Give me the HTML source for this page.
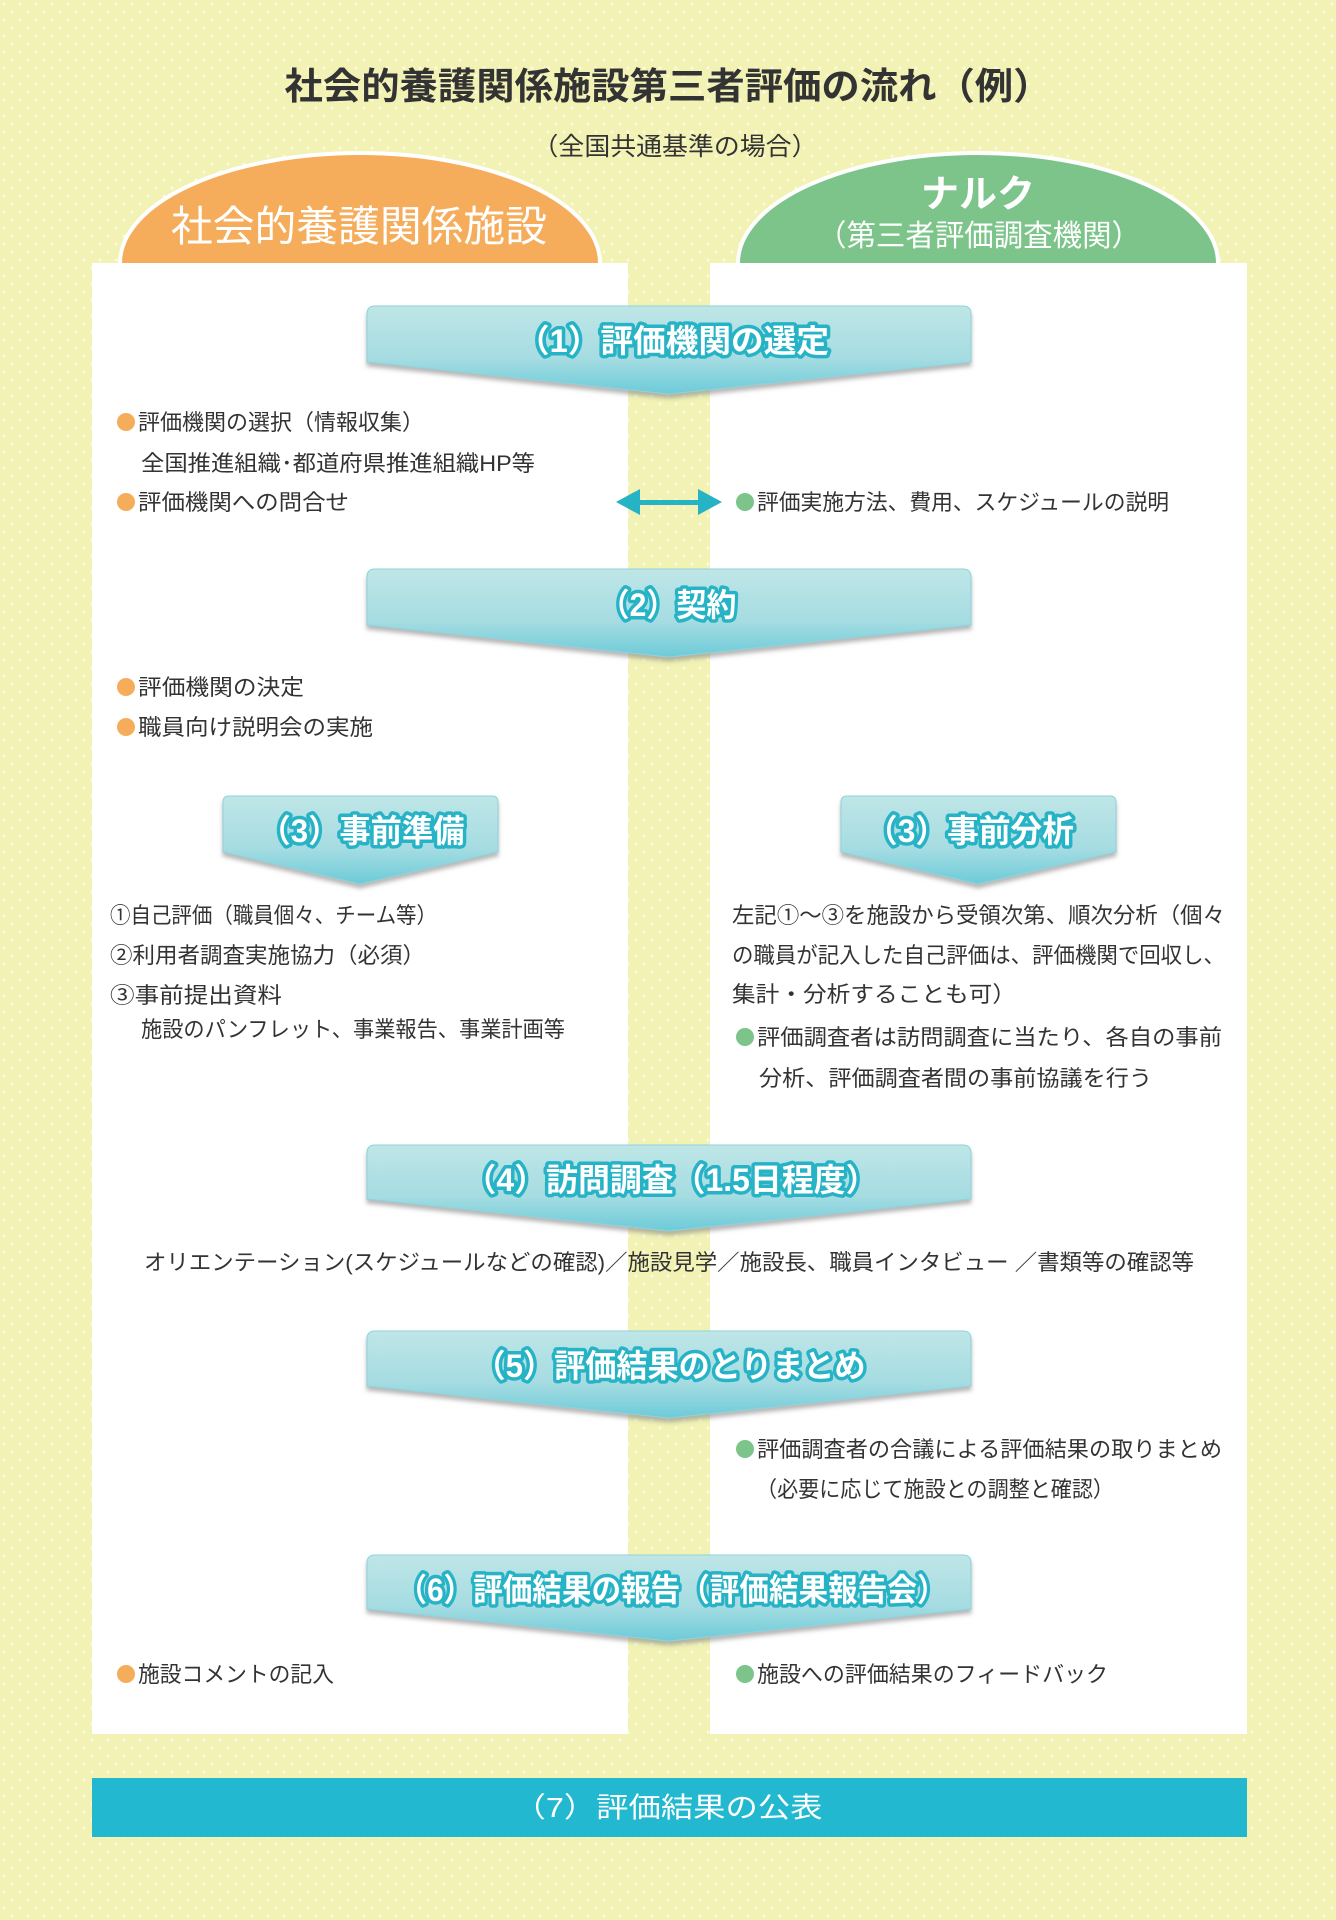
<!DOCTYPE html>
<html><head><meta charset="utf-8"><style>
html,body{margin:0;padding:0;width:1336px;height:1920px;overflow:hidden}
svg{display:block}
text{font-family:"Liberation Sans","Noto Sans CJK JP",sans-serif}
.b{font-size:22px;fill:#333}
.bt{font-size:32px;font-weight:bold;fill:#fff;stroke:#27b3c6;stroke-width:7px;paint-order:stroke;stroke-linejoin:round}
</style></head><body>
<svg width="1336" height="1920" viewBox="0 0 1336 1920" xmlns="http://www.w3.org/2000/svg">
<defs>
<pattern id="dots" width="16" height="16" patternUnits="userSpaceOnUse">
<rect width="16" height="16" fill="#f1f2b4"/><circle cx="4" cy="4" r="1.6" fill="#fafae0"/><circle cx="12" cy="12" r="1.6" fill="#fafae0"/>
</pattern>
<linearGradient id="bg" x1="0" y1="0" x2="0" y2="1">
<stop offset="0" stop-color="#bfe6e7"/><stop offset="0.6" stop-color="#a5dce2"/><stop offset="1" stop-color="#6ccbd8"/>
</linearGradient>
<filter id="sh" x="-5%" y="-10%" width="110%" height="130%"><feDropShadow dx="0" dy="4" stdDeviation="2" flood-color="#888" flood-opacity="0.6"/></filter>
</defs>
<rect width="1336" height="1920" fill="url(#dots)"/>
<ellipse cx="360" cy="263" rx="240" ry="110" fill="#f5ad5c" stroke="#fff" stroke-width="4"/>
<ellipse cx="978" cy="263" rx="240" ry="110" fill="#7cc48a" stroke="#fff" stroke-width="4"/>
<rect x="92" y="263" width="536" height="1471" fill="#fff"/>
<rect x="710" y="263" width="537" height="1471" fill="#fff"/>
<text x="668" y="99" font-size="37" font-weight="bold" fill="#333" text-anchor="middle" textLength="767" lengthAdjust="spacingAndGlyphs">社会的養護関係施設第三者評価の流れ（例）</text>
<text x="675" y="155" font-size="25" fill="#333" text-anchor="middle" textLength="285" lengthAdjust="spacingAndGlyphs">（全国共通基準の場合）</text>
<text x="359" y="241" font-size="42" fill="#fff" text-anchor="middle" textLength="376" lengthAdjust="spacingAndGlyphs">社会的養護関係施設</text>
<text x="978" y="207" font-size="38" font-weight="bold" fill="#fff" text-anchor="middle" textLength="114" lengthAdjust="spacingAndGlyphs">ナルク</text>
<text x="979" y="246" font-size="30" fill="#fff" text-anchor="middle" textLength="324" lengthAdjust="spacingAndGlyphs">（第三者評価調査機関）</text>

<g filter="url(#sh)" fill="url(#bg)" stroke="#8fd3dc" stroke-width="1">
<path d="M375,306 H963 Q971,306 971,314 V362 L669,394 L367,362 V314 Q367,306 375,306Z"/>
<path d="M375,569 H963 Q971,569 971,577 V625 L669,657 L367,625 V577 Q367,569 375,569Z"/>
<path d="M229,796 H492 Q498,796 498,802 V852 L360,884 L223,852 V802 Q223,796 229,796Z"/>
<path d="M847,796 H1110 Q1116,796 1116,802 V852 L978,884 L841,852 V802 Q841,796 847,796Z"/>
<path d="M375,1145 H963 Q971,1145 971,1153 V1199 L669,1231 L367,1199 V1153 Q367,1145 375,1145Z"/>
<path d="M375,1331 H963 Q971,1331 971,1339 V1386 L669,1418 L367,1386 V1339 Q367,1331 375,1331Z"/>
<path d="M375,1555 H963 Q971,1555 971,1563 V1609 L669,1641 L367,1609 V1563 Q367,1555 375,1555Z"/>
</g>
<text class="bt" x="673" y="352" text-anchor="middle" textLength="312" lengthAdjust="spacingAndGlyphs">（1）評価機関の選定</text>
<text class="bt" x="668" y="616" text-anchor="middle" textLength="137" lengthAdjust="spacingAndGlyphs">（2）契約</text>
<text class="bt" x="362" y="842" text-anchor="middle" textLength="205" lengthAdjust="spacingAndGlyphs">（3）事前準備</text>
<text class="bt" x="970" y="842" text-anchor="middle" textLength="208" lengthAdjust="spacingAndGlyphs">（3）事前分析</text>
<text class="bt" x="671" y="1191" text-anchor="middle" textLength="413" lengthAdjust="spacingAndGlyphs">（4）訪問調査（1.5日程度）</text>
<text class="bt" x="670" y="1377" text-anchor="middle" textLength="391" lengthAdjust="spacingAndGlyphs">（5）評価結果のとりまとめ</text>
<text class="bt" x="672" y="1601" text-anchor="middle" textLength="549" lengthAdjust="spacingAndGlyphs">（6）評価結果の報告（評価結果報告会）</text>

<g fill="#27b3c6">
<rect x="636" y="500" width="66" height="5"/>
<polygon points="616,502 640,489 640,515"/>
<polygon points="722,502 698,489 698,515"/>
</g>

<g fill="#f5ad5c">
<circle cx="126" cy="422" r="9"/><circle cx="126" cy="502" r="9"/><circle cx="126" cy="687" r="9"/><circle cx="126" cy="727" r="9"/><circle cx="126" cy="1674" r="9"/>
</g>
<g fill="#7cc48a">
<circle cx="745" cy="502" r="9"/><circle cx="745" cy="1037" r="9"/><circle cx="745" cy="1449" r="9"/><circle cx="745" cy="1674" r="9"/>
</g>
<g class="b">
<text x="138" y="430" textLength="286" lengthAdjust="spacingAndGlyphs">評価機関の選択（情報収集）</text>
<text x="141" y="471" textLength="394" lengthAdjust="spacingAndGlyphs">全国推進組織･都道府県推進組織HP等</text>
<text x="138" y="510" textLength="211" lengthAdjust="spacingAndGlyphs">評価機関への問合せ</text>
<text x="757" y="510" textLength="412" lengthAdjust="spacingAndGlyphs">評価実施方法、費用、スケジュールの説明</text>
<text x="138" y="695" textLength="166" lengthAdjust="spacingAndGlyphs">評価機関の決定</text>
<text x="138" y="735" textLength="235" lengthAdjust="spacingAndGlyphs">職員向け説明会の実施</text>
<text x="110" y="923" textLength="327" lengthAdjust="spacingAndGlyphs">①自己評価（職員個々、チーム等）</text>
<text x="110" y="963" textLength="315" lengthAdjust="spacingAndGlyphs">②利用者調査実施協力（必須）</text>
<text x="110" y="1003" textLength="172" lengthAdjust="spacingAndGlyphs">③事前提出資料</text>
<text x="141" y="1037" textLength="424" lengthAdjust="spacingAndGlyphs">施設のパンフレット、事業報告、事業計画等</text>
<text x="732" y="923" textLength="493" lengthAdjust="spacingAndGlyphs">左記①～③を施設から受領次第、順次分析（個々</text>
<text x="732" y="963" textLength="493" lengthAdjust="spacingAndGlyphs">の職員が記入した自己評価は、評価機関で回収し、</text>
<text x="732" y="1002" textLength="284" lengthAdjust="spacingAndGlyphs">集計・分析することも可）</text>
<text x="757" y="1045" textLength="465" lengthAdjust="spacingAndGlyphs">評価調査者は訪問調査に当たり、各自の事前</text>
<text x="759" y="1086" textLength="393" lengthAdjust="spacingAndGlyphs">分析、評価調査者間の事前協議を行う</text>
<text x="144" y="1270" textLength="1050" lengthAdjust="spacingAndGlyphs">オリエンテーション(スケジュールなどの確認)／施設見学／施設長、職員インタビュー ／書類等の確認等</text>
<text x="757" y="1457" textLength="465" lengthAdjust="spacingAndGlyphs">評価調査者の合議による評価結果の取りまとめ</text>
<text x="756" y="1497" textLength="358" lengthAdjust="spacingAndGlyphs">（必要に応じて施設との調整と確認）</text>
<text x="138" y="1682" textLength="196" lengthAdjust="spacingAndGlyphs">施設コメントの記入</text>
<text x="757" y="1682" textLength="351" lengthAdjust="spacingAndGlyphs">施設への評価結果のフィードバック</text>
</g>

<rect x="92" y="1778" width="1155" height="59" fill="#22b8d0"/>
<text x="668" y="1817" font-size="28" fill="#fff" text-anchor="middle" textLength="309" lengthAdjust="spacingAndGlyphs">（7）評価結果の公表</text>
</svg>
</body></html>
